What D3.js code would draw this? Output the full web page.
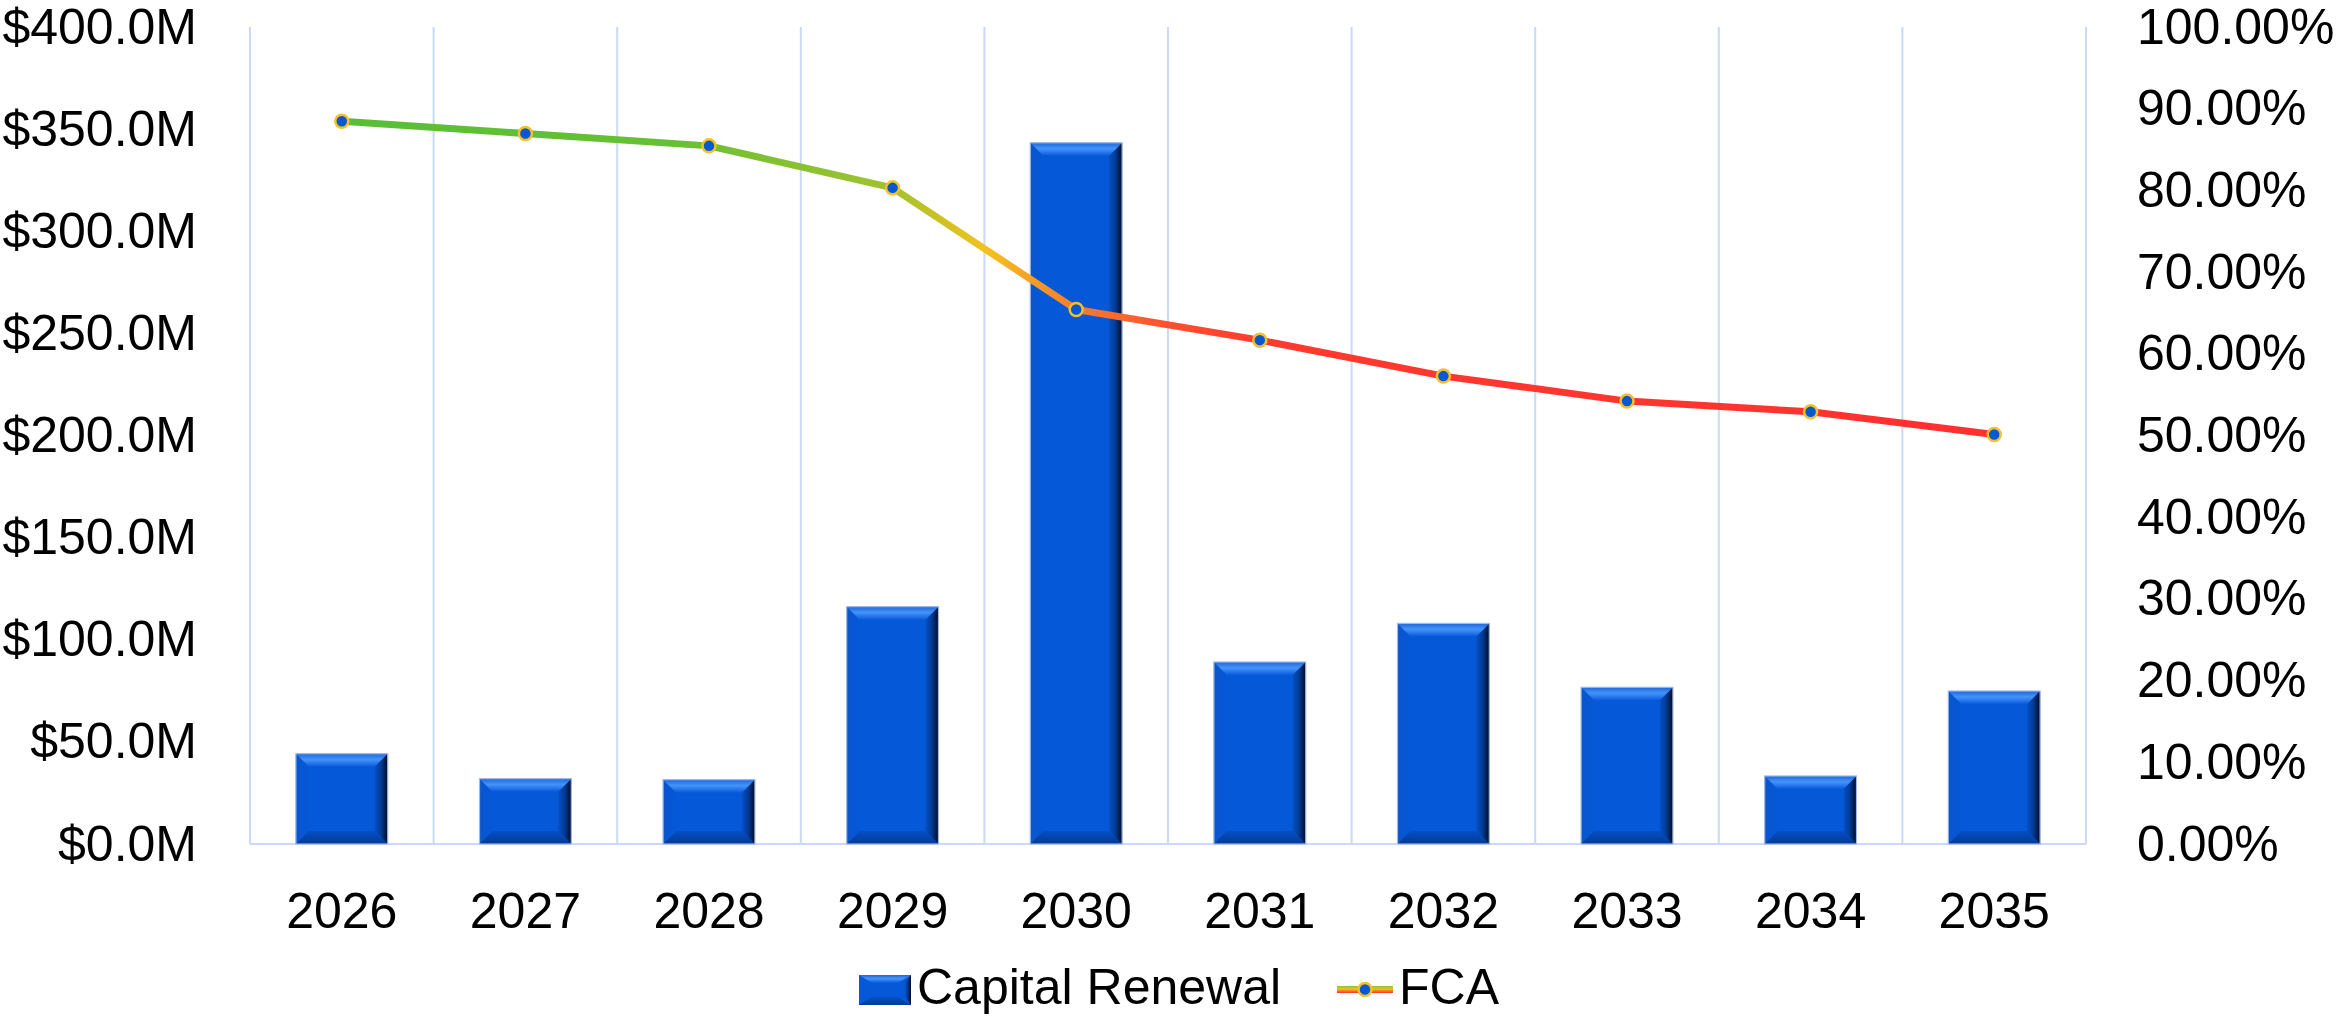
<!DOCTYPE html>
<html>
<head>
<meta charset="utf-8">
<title>Capital Renewal and FCA</title>
<script src="https://cdnjs.cloudflare.com/ajax/libs/d3/7.8.5/d3.min.js"></script>
<style>
body { margin: 0; background: #fff; }
svg { display: block; font-family: "Liberation Sans", Arial, sans-serif; }
.tick-label { font-size: 50px; fill: #000; }
.legend-label { font-size: 50px; fill: #000; }
</style>
</head>
<body>
<script>
// chart data
var years = ["2026", "2027", "2028", "2029", "2030", "2031", "2032", "2033", "2034", "2035"];
var capitalRenewal = [44.2, 32.0, 31.5, 116.2, 343.3, 89.1, 108.0, 76.7, 33.3, 74.9]; // $M
var fca = [0.8847, 0.8696, 0.8545, 0.8031, 0.6543, 0.6167, 0.5727, 0.5421, 0.5290, 0.5013];
var leftTicks = [0, 50, 100, 150, 200, 250, 300, 350, 400];
var rightTicks = [0, 0.1, 0.2, 0.3, 0.4, 0.5, 0.6, 0.7, 0.8, 0.9, 1.0];

var W = 2336, H = 1016;
var plot = { left: 250, right: 2086, top: 27, bottom: 844 };

var svg = d3.select("body").append("svg")
    .attr("width", W)
    .attr("height", H);

var defs = svg.append("defs");

var x = d3.scaleBand()
    .domain(years)
    .range([plot.left, plot.right])
    .paddingInner(0.5)
    .paddingOuter(0.25);

var yL = d3.scaleLinear().domain([0, 400]).range([plot.bottom, plot.top]);
var yR = d3.scaleLinear().domain([0, 1]).range([plot.bottom, plot.top]);

var step = x.step();
var bw = x.bandwidth();
function cx(d) { return x(d) + bw / 2; }

// vertical gridlines at category boundaries
var bounds = years.map(function(d) { return cx(d) - step / 2; });
bounds.push(cx(years[years.length - 1]) + step / 2);

svg.append("g").selectAll("line")
    .data(bounds)
    .enter().append("line")
    .attr("x1", function(d) { return d; })
    .attr("x2", function(d) { return d; })
    .attr("y1", plot.top)
    .attr("y2", plot.bottom)
    .attr("stroke", "#c9d9f7")
    .attr("stroke-width", 2);

svg.append("line")
    .attr("x1", plot.left).attr("x2", plot.right)
    .attr("y1", plot.bottom).attr("y2", plot.bottom)
    .attr("stroke", "#c9d9f7")
    .attr("stroke-width", 2);

// gradients for bevelled bars
function lin(id, x1, y1, x2, y2, stops) {
    var g = defs.append("linearGradient").attr("id", id)
        .attr("x1", x1).attr("y1", y1).attr("x2", x2).attr("y2", y2);
    stops.forEach(function(s) {
        g.append("stop").attr("offset", s[0]).attr("stop-color", s[1]);
    });
}
lin("bevTop", 0, 0, 0, 1, [[0, "#1b68e0"], [0.45, "#4593f7"], [0.7, "#2a7af0"], [1, "#0a5ad8"]]);
lin("bevRight", 0, 0, 1, 0, [[0, "#0550c8"], [0.5, "#023a90"], [1, "#000a22"]]);
lin("bevBottom", 0, 0, 0, 1, [[0, "#054fc4"], [1, "#033a96"]]);
lin("bevLeft", 0, 0, 1, 0, [[0, "#0a55cc"], [1, "#0558d8"]]);

var bev = 13;
var bars = svg.append("g").selectAll("g.bar")
    .data(years.map(function(d, i) { return { year: d, v: capitalRenewal[i] }; }))
    .enter().append("g").attr("class", "bar");

bars.each(function(d) {
    var g = d3.select(this);
    var x0 = x(d.year), x1 = x0 + bw, y0 = yL(d.v), y1 = yL(0);
    var b = Math.min(bev, (y1 - y0) / 2);
    g.append("rect")
        .attr("x", x0).attr("y", y0)
        .attr("width", bw).attr("height", y1 - y0)
        .attr("fill", "#0558d8");
    var pts = function(a) { return a.map(function(p) { return p.join(","); }).join(" "); };
    g.append("polygon").attr("fill", "url(#bevLeft)")
        .attr("points", pts([[x0, y0], [x0 + b, y0 + b], [x0 + b, y1 - b], [x0, y1]]));
    g.append("polygon").attr("fill", "url(#bevBottom)")
        .attr("points", pts([[x0, y1], [x0 + b, y1 - b], [x1 - b, y1 - b], [x1, y1]]));
    g.append("polygon").attr("fill", "url(#bevRight)")
        .attr("points", pts([[x1, y0], [x1 - b, y0 + b], [x1 - b, y1 - b], [x1, y1]]));
    g.append("polygon").attr("fill", "url(#bevTop)")
        .attr("points", pts([[x0, y0], [x1, y0], [x1 - b, y0 + b], [x0 + b, y0 + b]]));
    g.append("rect")
        .attr("x", x0).attr("y", y0)
        .attr("width", bw).attr("height", y1 - y0)
        .attr("fill", "none")
        .attr("stroke", "#9fb8e4")
        .attr("stroke-width", 1.2);
});

// FCA line with horizontal colour gradient
var lg = defs.append("linearGradient").attr("id", "fcaGrad")
    .attr("gradientUnits", "userSpaceOnUse")
    .attr("x1", cx(years[0])).attr("x2", cx(years[years.length - 1]))
    .attr("y1", 0).attr("y2", 0);
[[0, "#58be36"], [0.2, "#66c034"], [0.333, "#a2c22e"], [0.39, "#f4c21e"], [0.444, "#f57d2e"],
 [0.5, "#fb5030"], [0.56, "#ff3a2e"], [1, "#ff3030"]].forEach(function(s) {
    lg.append("stop").attr("offset", s[0]).attr("stop-color", s[1]);
});

var line = d3.line()
    .x(function(d) { return cx(d.year); })
    .y(function(d) { return yR(d.v); });
var fcaData = years.map(function(d, i) { return { year: d, v: fca[i] }; });

svg.append("path")
    .datum(fcaData)
    .attr("d", line)
    .attr("fill", "none")
    .attr("stroke", "url(#fcaGrad)")
    .attr("stroke-width", 7)
    .attr("stroke-linejoin", "round");

svg.append("g").selectAll("circle")
    .data(fcaData)
    .enter().append("circle")
    .attr("cx", function(d) { return cx(d.year); })
    .attr("cy", function(d) { return yR(d.v); })
    .attr("r", 6.5)
    .attr("fill", "#0558d0")
    .attr("stroke", "#f5c02a")
    .attr("stroke-width", 2.5);

// axes labels
var fmtM = function(d) { return "$" + d3.format(".1f")(d) + "M"; };
var fmtP = d3.format(".2%");

svg.append("g").selectAll("text")
    .data(leftTicks)
    .enter().append("text")
    .attr("class", "tick-label")
    .attr("x", 197)
    .attr("y", function(d) { return yL(d); })
    .attr("dy", "0.33em")
    .attr("text-anchor", "end")
    .text(fmtM);

svg.append("g").selectAll("text")
    .data(rightTicks)
    .enter().append("text")
    .attr("class", "tick-label")
    .attr("x", 2137)
    .attr("y", function(d) { return yR(d); })
    .attr("dy", "0.33em")
    .attr("text-anchor", "start")
    .text(fmtP);

svg.append("g").selectAll("text")
    .data(years)
    .enter().append("text")
    .attr("class", "tick-label")
    .attr("x", cx)
    .attr("y", 928)
    .attr("text-anchor", "middle")
    .text(function(d) { return d; });

// legend
var ly = 975;
var leg = svg.append("g").attr("transform", "translate(0," + ly + ")");
leg.append("rect")
    .attr("x", 859).attr("y", 0).attr("width", 52).attr("height", 30)
    .attr("fill", "#0558d8");
leg.append("polygon").attr("fill", "url(#bevTop)")
    .attr("points", "859,0 911,0 898,8 872,8");
leg.append("polygon").attr("fill", "url(#bevBottom)")
    .attr("points", "859,30 872,22 898,22 911,30");
leg.append("polygon").attr("fill", "url(#bevRight)")
    .attr("points", "911,0 905,8 905,22 911,30");
leg.append("text").attr("class", "legend-label")
    .attr("x", 917).attr("y", 29).text("Capital Renewal");

var lgv = defs.append("linearGradient").attr("id", "fcaLeg")
    .attr("x1", 0).attr("y1", 0).attr("x2", 0).attr("y2", 1);
[[0, "#7cc63c"], [0.45, "#f5c21e"], [0.55, "#f5a02a"], [1, "#ff3030"]].forEach(function(s) {
    lgv.append("stop").attr("offset", s[0]).attr("stop-color", s[1]);
});
leg.append("rect")
    .attr("x", 1337).attr("y", 11).attr("width", 56).attr("height", 7)
    .attr("fill", "url(#fcaLeg)");
leg.append("circle")
    .attr("cx", 1365).attr("cy", 14.5).attr("r", 6.5)
    .attr("fill", "#0558d0").attr("stroke", "#f5c02a").attr("stroke-width", 2.5);
leg.append("text").attr("class", "legend-label")
    .attr("x", 1399).attr("y", 29).text("FCA");
</script>
</body>
</html>
